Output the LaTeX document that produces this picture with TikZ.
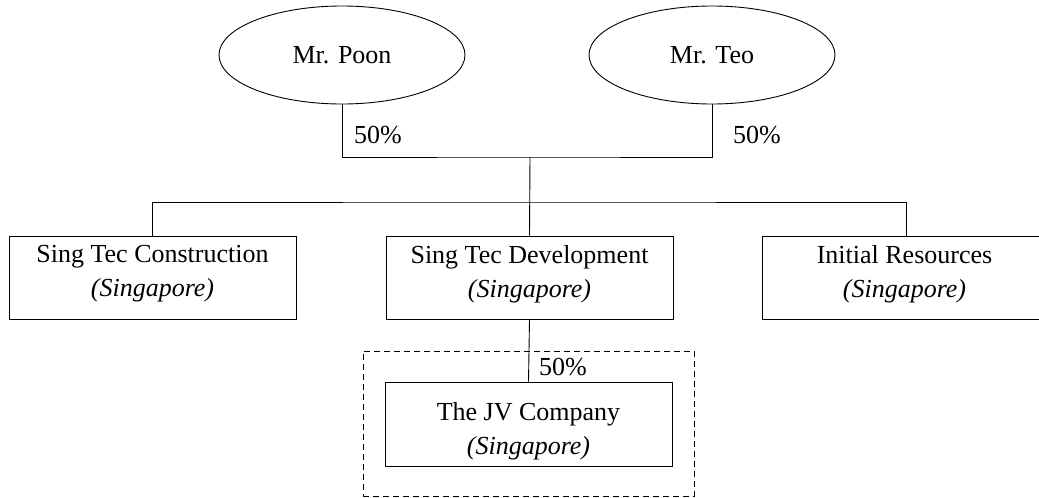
\documentclass[tikz,border=0pt]{standalone}
\usepackage{fontspec}
\setmainfont{Liberation Serif}
\usetikzlibrary{shapes.geometric}
\begin{document}
\begin{tikzpicture}[x=1pt,y=-1pt,
  every node/.style={font=\fontsize{26}{34}\selectfont, text=black},
  person/.style={draw, ellipse, line width=0.9pt, minimum width=246pt, minimum height=98pt, inner sep=0pt},
  orgbox/.style={draw, rectangle, line width=0.9pt, minimum width=287pt, minimum height=83pt, inner sep=0pt},
  orgtext/.style={align=center, inner sep=0pt},
  frame/.style={draw, rectangle, dash pattern=on 6pt off 4pt, line width=0.9pt, minimum width=331pt, minimum height=145pt, inner sep=0pt},
  link/.style={line width=0.9pt},
  pct/.style={anchor=west, inner sep=0pt}]
\useasboundingbox (0,0) rectangle (1039,498);
\clip (0,0) rectangle (1039,498);

\node[person] (poon) at (342,55) {Mr. Poon};
\node[person] (teo) at (712,55) {Mr. Teo};

\coordinate (j1) at (530,157);
\coordinate (j2) at (530,202);

\node[orgbox] (con) at (152.5,277.5) {};
\node[orgbox] (dev) at (529.5,277.5) {};
\node[orgbox] (ir) at (906,277.5) {};
\node[orgtext] (cont) at (152.5,274) {Sing Tec Construction\\\textit{(Singapore)}};
\node[orgtext] (devt) at (529.5,274) {Sing Tec Development\\\textit{(Singapore)}};
\node[orgtext] (irt) at (904.5,274) {Initial Resources\\\textit{(Singapore)}};

\node[frame] (jvframe) at (528.5,423.5) {};
\node[orgbox, minimum height=84pt] (jv) at (528.5,424) {};
\node[orgtext] (jvt) at (528.5,431) {The JV Company\\\textit{(Singapore)}};

\draw[link] (poon.south) |- (j1) -| (teo.south);
\draw[link] (j1) -- (dev.north);
\draw[link] (con.north) |- (j2) -| (ir.north);
\draw[link] (dev.south) -- (jv.north);

\node[pct] (p1) at (354,135) {50\%};
\node[pct] (p2) at (733,135) {50\%};
\node[pct] (p3) at (539,367) {50\%};
\end{tikzpicture}
\end{document}
